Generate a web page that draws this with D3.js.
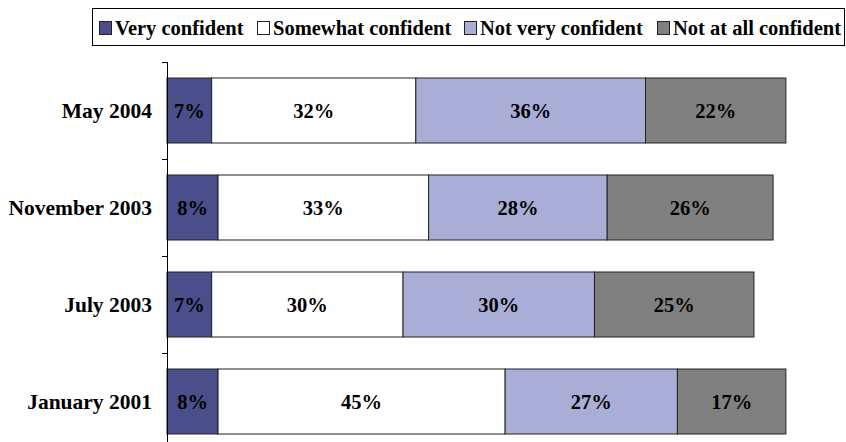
<!DOCTYPE html>
<html><head><meta charset="utf-8">
<script src="https://cdn.jsdelivr.net/npm/d3@7"></script>
<style>body{margin:0;background:#fff}svg{display:block}</style>
</head><body>
<svg id="c" width="846" height="442"></svg>
<script>
const categories = ["May 2004","November 2003","July 2003","January 2001"];
const seriesNames = ["Very confident","Somewhat confident","Not very confident","Not at all confident"];
const veryConfident = [7, 8, 7, 8];
const somewhatConfident = [32, 33, 30, 45];
const notVeryConfident = [36, 28, 30, 27];
const notAtAllConfident = [22, 26, 25, 17];
const colors = ["#4a4e8a","#ffffff","#aaaed6","#808080"];

const seriesValues = [veryConfident, somewhatConfident, notVeryConfident, notAtAllConfident];
const rows = categories.map((c,i)=>{const o={cat:c}; seriesNames.forEach((s,j)=>o[s]=seriesValues[j][i]); return o;});
const stack = d3.stack().keys(seriesNames)(rows);

const svg = d3.select("#c");
const font = "'Liberation Serif','Times New Roman',serif";

const x = d3.scaleLinear().domain([0,100]).range([167,805]);
const y = d3.scaleBand().domain(categories).range([62,450]).paddingInner(0.33).paddingOuter(0.165);

// bars
stack.forEach((layer,j)=>{
  const g = svg.append("g");
  g.selectAll("rect").data(layer).join("rect")
    .attr("x",d=>x(d[0])).attr("y",d=>y(d.data.cat))
    .attr("width",d=>x(d[1])-x(d[0])).attr("height",y.bandwidth())
    .attr("fill",colors[j]).attr("stroke","#222").attr("stroke-width",1);
  g.selectAll("text").data(layer).join("text")
    .attr("x",d=>(x(d[0])+x(d[1]))/2).attr("y",d=>y(d.data.cat)+y.bandwidth()/2)
    .attr("text-anchor","middle").attr("dominant-baseline","central")
    .attr("font-family",font).attr("font-weight","bold").attr("font-size",20.5)
    .attr("fill","#000").text(d=>(d[1]-d[0])+"%");
});

// axis
const step = y.step();
const tickYs = categories.map(c=>y(c)-step*y.paddingInner()/2);
tickYs.push(y(categories[categories.length-1])+y.bandwidth()+step*y.paddingInner()/2);
svg.append("line").attr("x1",167.5).attr("x2",167.5).attr("y1",62).attr("y2",442).attr("stroke","#000");
svg.selectAll(".tk").data(tickYs).join("line").attr("class","tk")
  .attr("x1",162).attr("x2",167.5).attr("y1",d=>Math.round(d)+0.5).attr("y2",d=>Math.round(d)+0.5).attr("stroke","#000");
svg.selectAll(".cl").data(categories).join("text").attr("class","cl")
  .attr("x",152).attr("y",d=>y(d)+y.bandwidth()/2)
  .attr("text-anchor","end").attr("dominant-baseline","central")
  .attr("font-family",font).attr("font-weight","bold").attr("font-size",21.5).text(d=>d);

// legend
const lg = svg.append("g");
lg.append("rect").attr("x",92.5).attr("y",8.5).attr("width",752).attr("height",37)
  .attr("fill","#fff").attr("stroke","#000");
const legendX = [99, 257, 464, 657];
seriesNames.forEach((s,j)=>{
  lg.append("rect").attr("x",legendX[j]+0.5).attr("y",21.5).attr("width",12).attr("height",13)
    .attr("fill",colors[j]).attr("stroke","#222");
  lg.append("text").attr("x",legendX[j]+16).attr("y",34.5)
    .attr("font-family",font).attr("font-weight","bold").attr("font-size",20.5).text(s);
});
</script>
</body></html>
